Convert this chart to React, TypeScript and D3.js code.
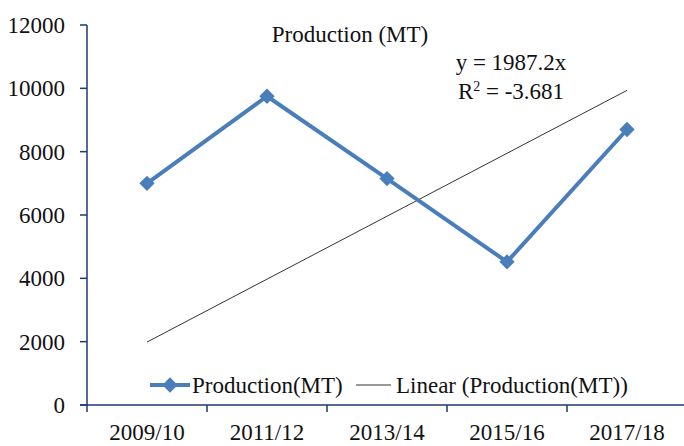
import * as d3 from "d3";

const categories = ["2009/10", "2011/12", "2013/14", "2015/16", "2017/18"];
const production = [7000, 9750, 7150, 4520, 8700];
const yTicks = [0, 2000, 4000, 6000, 8000, 10000, 12000];
// trendline shown on the chart: y = 1987.2x (x = 1..n)
const trendSlope = 1987.2;
const trendLabel = "y = 1987.2x";
const r2Label = "-3.681";

const W = 684;
const H = 446;
const margin = { top: 25, right: -3, bottom: 41, left: 87 };
const FONT = "'Liberation Serif', 'Times New Roman', serif";
const AXIS = "#1F3A6E";
const BLUE = "#4A7EBB";

export default function App() {
  const x = d3
    .scaleBand<string>()
    .domain(categories)
    .range([margin.left, W - margin.right]);
  const y = d3
    .scaleLinear()
    .domain([0, 12000])
    .range([H - margin.bottom, margin.top]);

  const cx = (c: string) => (x(c) ?? 0) + x.bandwidth() / 2;
  const pts = production.map((v, i) => [cx(categories[i]), y(v)] as [number, number]);
  const line = d3.line()(pts) ?? "";

  const trend = categories.map((c, i) => [cx(c), y(trendSlope * (i + 1))] as [number, number]);
  const trendPath = d3.line()(trend) ?? "";

  const diamond = d3.symbol().type(d3.symbolDiamond2).size(150)() ?? "";

  const y0 = y(0);
  const xTickPos = categories.map((c) => x(c) ?? 0).concat([(x(categories[4]) ?? 0) + x.bandwidth()]);

  const txt = { fontFamily: FONT, fill: "#111" };

  return (
    <svg
      width={W}
      height={H}
      style={{ position: "absolute", left: 0, top: 0, background: "#fff" }}
    >
      {/* y axis */}
      <line x1={margin.left} x2={margin.left} y1={y(12000)} y2={y0} stroke={AXIS} strokeWidth={1.5} />
      {yTicks.map((t) => (
        <g key={t}>
          <line x1={margin.left - 7} x2={margin.left} y1={y(t)} y2={y(t)} stroke={AXIS} strokeWidth={1.5} />
          <text x={65} y={y(t)} dy="0.35em" textAnchor="end" fontSize={23} style={txt}>
            {t}
          </text>
        </g>
      ))}

      {/* x axis */}
      <line x1={margin.left - 7} x2={W} y1={y0} y2={y0} stroke={AXIS} strokeWidth={1.5} />
      {xTickPos.map((p, i) => (
        <line key={i} x1={p} x2={p} y1={y0} y2={y0 + 7} stroke={AXIS} strokeWidth={1.5} />
      ))}
      {categories.map((c) => (
        <text key={c} x={cx(c)} y={440} textAnchor="middle" fontSize={23} style={txt}>
          {c}
        </text>
      ))}

      {/* trendline */}
      <path d={trendPath} fill="none" stroke="#333" strokeWidth={1} />

      {/* series */}
      <path d={line} fill="none" stroke={BLUE} strokeWidth={4} strokeLinejoin="round" />
      {pts.map((p, i) => (
        <path key={i} d={diamond} transform={`translate(${p[0]},${p[1]})`} fill={BLUE} />
      ))}

      {/* title */}
      <text x={350} y={42} textAnchor="middle" fontSize={23} style={txt}>
        Production (MT)
      </text>

      {/* equation */}
      <text x={511} y={70} textAnchor="middle" fontSize={23} style={txt}>
        {trendLabel}
      </text>
      <text x={511} y={99} textAnchor="middle" fontSize={23} style={txt}>
        R<tspan fontSize={14} dy={-8}>2</tspan>
        <tspan dy={8}> = {r2Label}</tspan>
      </text>

      {/* legend */}
      <g>
        <line x1={150} x2={190} y1={385} y2={385} stroke={BLUE} strokeWidth={4} />
        <path d={diamond} transform="translate(170,385)" fill={BLUE} />
        <text x={192} y={393} fontSize={23} style={txt}>
          Production(MT)
        </text>
        <line x1={356} x2={391} y1={385} y2={385} stroke="#333" strokeWidth={1} />
        <text x={396} y={393} fontSize={23} style={txt}>
          Linear (Production(MT))
        </text>
      </g>
    </svg>
  );
}
